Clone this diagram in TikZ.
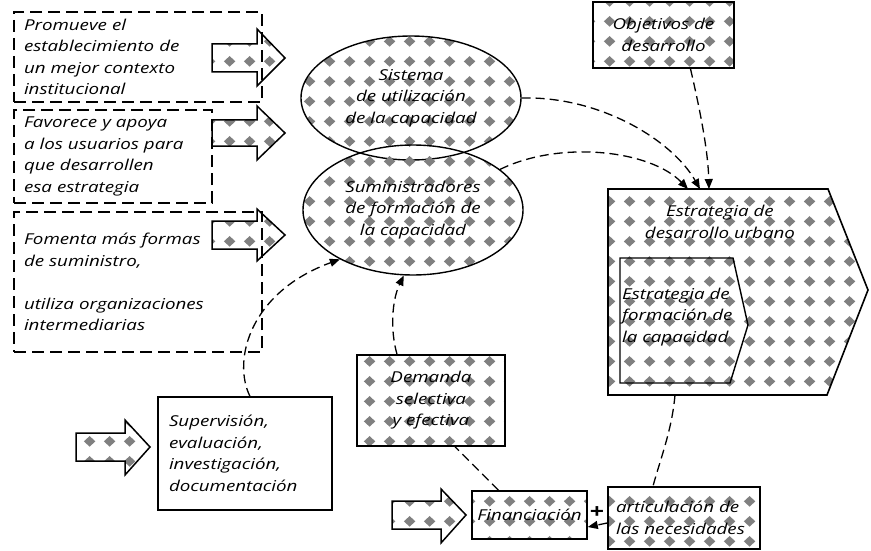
\documentclass[tikz,border=0pt]{standalone}
\usepackage{fontspec}
\setmainfont{Open Sans}[FakeStretch=1.25]
\usetikzlibrary{arrows.meta,shapes.geometric,patterns}

\pgfdeclarepatternformonly{graydiamonds}{\pgfqpoint{0pt}{0pt}}{\pgfqpoint{20pt}{20pt}}{\pgfqpoint{20pt}{20pt}}{%
  \pgfpathmoveto{\pgfqpoint{10pt}{4.5pt}}
  \pgfpathlineto{\pgfqpoint{16pt}{10pt}}
  \pgfpathlineto{\pgfqpoint{10pt}{15.5pt}}
  \pgfpathlineto{\pgfqpoint{4pt}{10pt}}
  \pgfpathclose
  \pgfusepath{fill}}

\begin{document}
\begin{tikzpicture}[x=1pt,y=-1pt,
  font=\itshape\fontsize{15}{21.5}\selectfont,
  hatched/.style={pattern=graydiamonds,pattern color=black!50},
  dashbox/.style={draw,dash pattern=on 12pt off 6pt,line width=1.6pt,align=left,inner xsep=10pt},
  hatchbox/.style={draw,line width=1.6pt,hatched,align=center,inner sep=0pt},
  hatcharrow/.style={draw,line width=1.5pt,hatched,line join=miter},
  bubble/.style={draw,ellipse,line width=1.4pt,hatched,align=center,inner sep=0pt},
  plainlink/.style={line width=1.3pt,dash pattern=on 9pt off 5pt},
  link/.style={plainlink,-{Triangle[length=10pt,width=8pt]}}]
  \useasboundingbox (0,0) rectangle (871,551);

  % left column
  \node[dashbox,minimum width=248pt,minimum height=90pt,text width=228pt] (prom) at (138,57)
    {Promueve el\\establecimiento de\\un mejor contexto\\institucional};
  \node[dashbox,minimum width=198pt,minimum height=93pt,text width=178pt] (fav) at (113,156.5)
    {Favorece y apoya\\a los usuarios para\\que desarrollen\\esa estrategia};
  \node[dashbox,minimum width=248pt,minimum height=140pt,text width=228pt] (fom) at (138,282)
    {Fomenta más formas\\de suministro,\\[21.5pt]utiliza organizaciones\\intermediarias};

  % hatched arrows
  \draw[hatcharrow] (212,44) -- (257,44) -- (257,29) -- (285,58) -- (257,86) -- (257,72) -- (212,72) -- cycle;
  \draw[hatcharrow] (212,120) -- (257,120) -- (257,106) -- (285,133) -- (257,160) -- (257,146) -- (212,146) -- cycle;
  \draw[hatcharrow] (212,221) -- (257,221) -- (257,209) -- (285,235) -- (257,261) -- (257,249) -- (212,249) -- cycle;
  \draw[hatcharrow] (76,433) -- (125,433) -- (125,420) -- (150,447) -- (125,475) -- (125,461) -- (76,461) -- cycle;
  \draw[hatcharrow] (392,501) -- (441,501) -- (441,489) -- (466,515) -- (441,543) -- (441,529) -- (392,529) -- cycle;

  % ellipses
  \node[bubble,minimum width=220pt,minimum height=124pt] (sis) at (411,98)
    {Sistema\\de utilización\\de la capacidad};
  \node[bubble,minimum width=220pt,minimum height=130pt] (sum) at (413,210)
    {Suministradores\\de formación de\\la capacidad};

  % boxes
  \node[hatchbox,minimum width=141pt,minimum height=66pt] (obj) at (663.5,35) {Objetivos de\\desarrollo};
  \node[hatchbox,minimum width=148pt,minimum height=91pt] (dem) at (431,400.5) {Demanda\\selectiva\\y efectiva};
  \node[hatchbox,minimum width=115pt,minimum height=48pt] (fin) at (529.5,515) {Financiación};
  \node[hatchbox,minimum width=152pt,minimum height=62pt,align=left,text width=136pt,inner xsep=8pt] (art) at (684,518)
    {articulación de\\las necesidades};
  \node[draw,fill=white,line width=1.2pt,minimum width=174pt,minimum height=113pt,text width=152pt,
    inner xsep=11pt,align=left] (sup) at (245,453.5)
    {Supervisión,\\evaluación,\\investigación,\\documentación};

  % strategy shapes
  \draw[line width=1.6pt,hatched,line join=miter] (608,189) -- (828,189) -- (868,290) -- (827,395) -- (608,395) -- cycle;
  \draw[line width=1.4pt,line join=miter] (620,258) -- (733,258) -- (748,325) -- (730,383) -- (620,383) -- cycle;
  \node[align=center] (edu) at (720,222) {Estrategia de\\desarrollo urbano};
  \node[align=left,anchor=west,inner xsep=2pt] (efc) at (620,317) {Estrategia de\\formación de\\la capacidad};
  \coordinate (eduA) at (688,189);
  \coordinate (eduB) at (700,189);
  \coordinate (eduC) at (709,189);
  \coordinate (eduS) at (675,395);

  % connectors
  \draw[link] (sis.east) .. controls (600,96) and (672,140) .. (eduB);
  \draw[link] (sum.25) .. controls (560,140) and (650,150) .. (eduA);
  \draw[link] ([xshift=27pt]obj.south) .. controls (700,110) and (708,150) .. (eduC);
  \draw[link] ([xshift=5pt]sup.north) .. controls (232,360) and (250,292) .. (sum.214);
  \draw[plainlink] ([xshift=-31pt]fin.north) -- ([xshift=24pt]dem.south);
  \draw[link] ([xshift=-34pt]dem.north) .. controls (390,330) and (392,300) .. (sum.262);
  \draw[plainlink] (eduS) .. controls (672,430) and (660,460) .. ([xshift=-31pt]art.north);
  \draw[link] ([yshift=-5pt]art.west) -- ([yshift=-12pt]fin.east);
  \node[font=\upshape\bfseries\fontsize{20}{20}\selectfont,inner sep=0pt] (plus) at (597,513) {+};
\end{tikzpicture}
\end{document}
